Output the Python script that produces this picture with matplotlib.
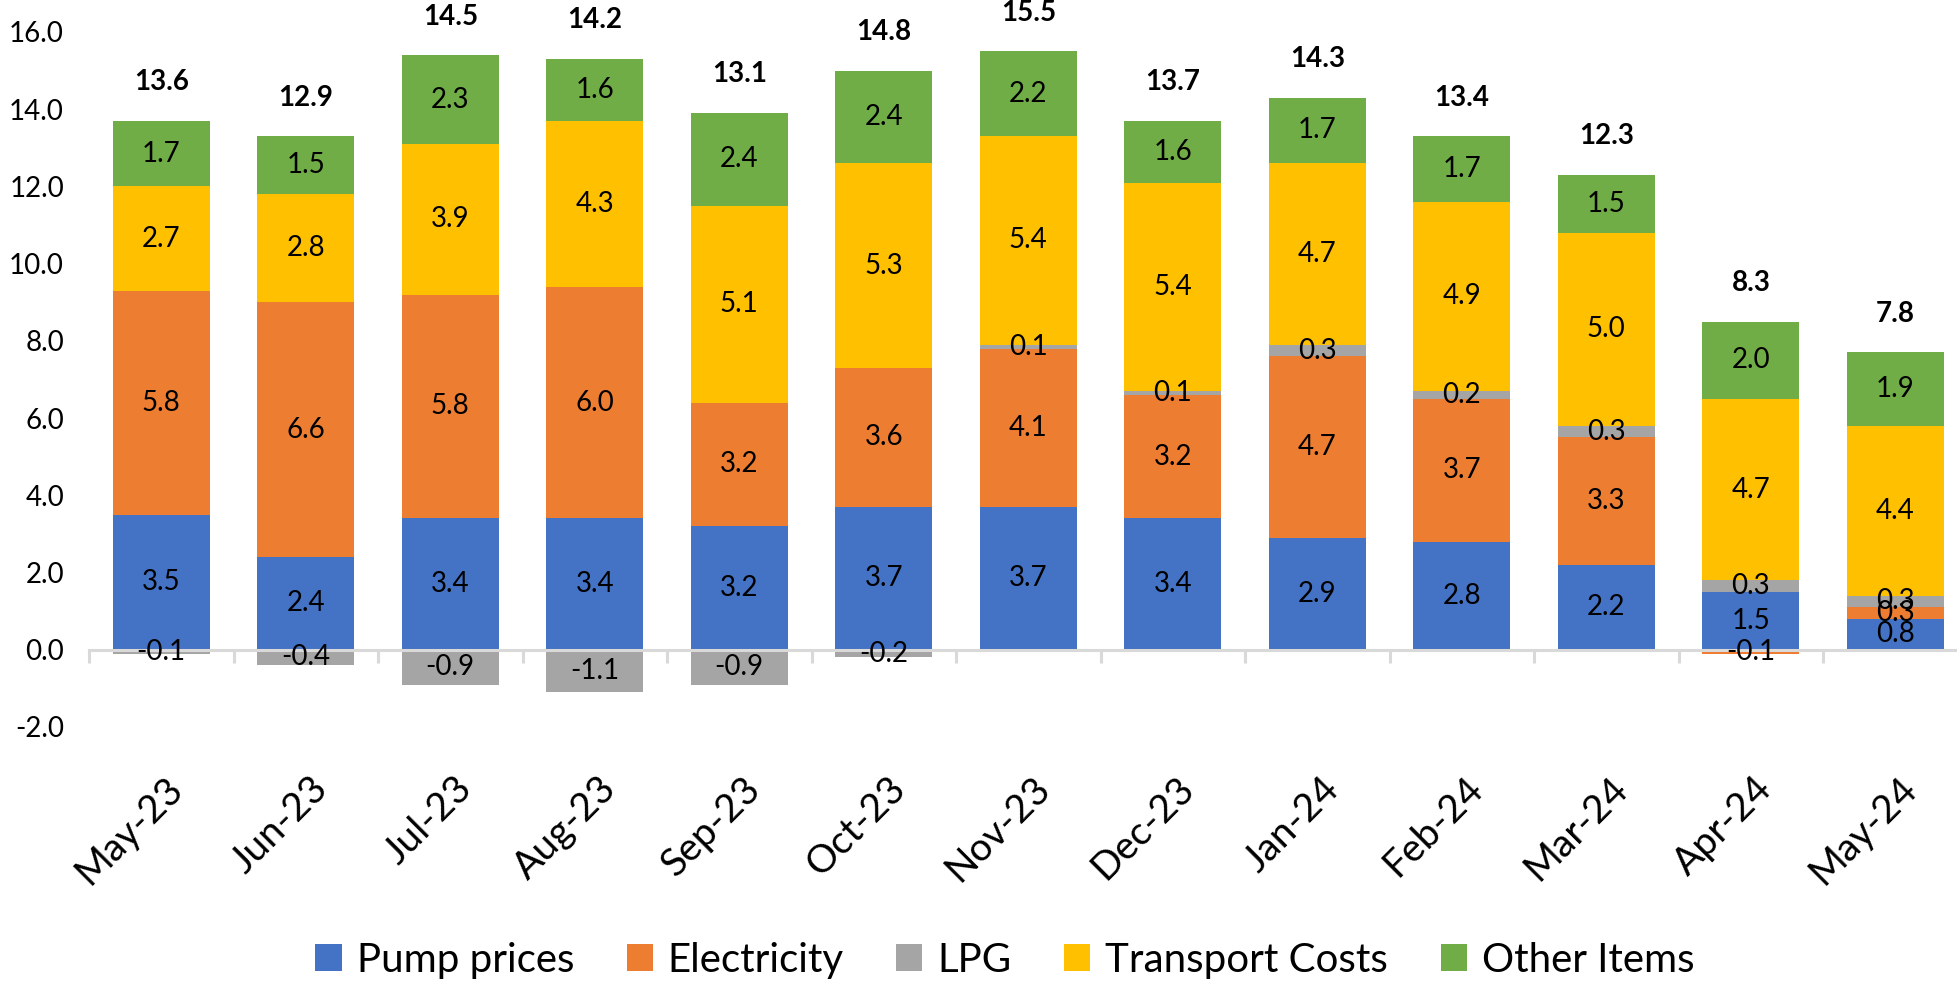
import matplotlib.pyplot as plt
import numpy as np
from matplotlib.transforms import ScaledTranslation

plt.rcParams['font.family'] = ['Lato', 'DejaVu Sans']

months = ["May-23", "Jun-23", "Jul-23", "Aug-23", "Sep-23", "Oct-23", "Nov-23",
          "Dec-23", "Jan-24", "Feb-24", "Mar-24", "Apr-24", "May-24"]

pump = [3.5, 2.4, 3.4, 3.4, 3.2, 3.7, 3.7, 3.4, 2.9, 2.8, 2.2, 1.5, 0.8]
electricity = [5.8, 6.6, 5.8, 6.0, 3.2, 3.6, 4.1, 3.2, 4.7, 3.7, 3.3, -0.1, 0.3]
lpg = [-0.1, -0.4, -0.9, -1.1, -0.9, -0.2, 0.1, 0.1, 0.3, 0.2, 0.3, 0.3, 0.3]
transport = [2.7, 2.8, 3.9, 4.3, 5.1, 5.3, 5.4, 5.4, 4.7, 4.9, 5.0, 4.7, 4.4]
other = [1.7, 1.5, 2.3, 1.6, 2.4, 2.4, 2.2, 1.6, 1.7, 1.7, 1.5, 2.0, 1.9]
totals = [13.6, 12.9, 14.5, 14.2, 13.1, 14.8, 15.5, 13.7, 14.3, 13.4, 12.3, 8.3, 7.8]

series = [
    ("Pump prices", pump, "#4472C4"),
    ("Electricity", electricity, "#ED7D31"),
    ("LPG", lpg, "#A5A5A5"),
    ("Transport Costs", transport, "#FFC000"),
    ("Other Items", other, "#70AD47"),
]

fig = plt.figure(figsize=(19.57, 9.86), dpi=100)
ax = fig.add_axes([0.0455, 0.2627, 0.9599, 0.7049])

x = np.arange(len(months))
pos_base = np.zeros(len(months))
neg_base = np.zeros(len(months))

# stack positives upwards and negatives downwards, like Excel does
for name, vals, color in series:
    v = np.array(vals)
    bottom = np.where(v >= 0, pos_base, neg_base)
    bars = ax.bar(x, v, width=0.67, bottom=bottom, color=color, label=name, zorder=1)
    ax.bar_label(bars, labels=[f"{a:.1f}" for a in v], label_type="center",
                 fontsize=20, color="black")
    pos_base = pos_base + np.where(v > 0, v, 0)
    neg_base = neg_base + np.where(v < 0, v, 0)

# totals above the stacks
for xi, top, t in zip(x, pos_base, totals):
    ax.text(xi, top + 1.0, f"{t:.1f}", ha="center", va="center",
            fontsize=20, fontweight="bold", color="black")

ax.set_xlim(-0.5, len(months) - 0.5)
ax.set_ylim(-2, 16)
ax.set_yticks(np.arange(-2, 17, 2))
ax.set_yticklabels([f"{v:.1f}" for v in np.arange(-2, 17, 2)])
ax.tick_params(axis="y", length=0, pad=18, labelsize=20, labelcolor="black")

for s in ["top", "right", "left"]:
    ax.spines[s].set_visible(False)
ax.spines["bottom"].set_position(("data", 0))
ax.spines["bottom"].set_color("#D9D9D9")
ax.spines["bottom"].set_linewidth(2.2)

ax.set_xticks(x)
ax.set_xticks(np.arange(-0.5, len(months), 1.0), minor=True)
ax.tick_params(axis="x", which="minor", length=9.5, width=2.2, color="#D9D9D9", direction="out")
ax.tick_params(axis="x", which="major", length=0, pad=96)
ax.set_xticklabels(months, rotation=45, ha="right", va="center",
                   rotation_mode="anchor", fontsize=28)
shift = ScaledTranslation(16 / 100, 0, fig.dpi_scale_trans)
for lab in ax.get_xticklabels():
    lab.set_transform(lab.get_transform() + shift)

ax.legend(loc="center", bbox_to_anchor=(0.5135, 0.026), bbox_transform=fig.transFigure,
          ncol=5, frameon=False, fontsize=29, handlelength=0.65, handleheight=0.65,
          handletextpad=0.375, columnspacing=1.3)

fig.savefig("out.png", dpi=100)
